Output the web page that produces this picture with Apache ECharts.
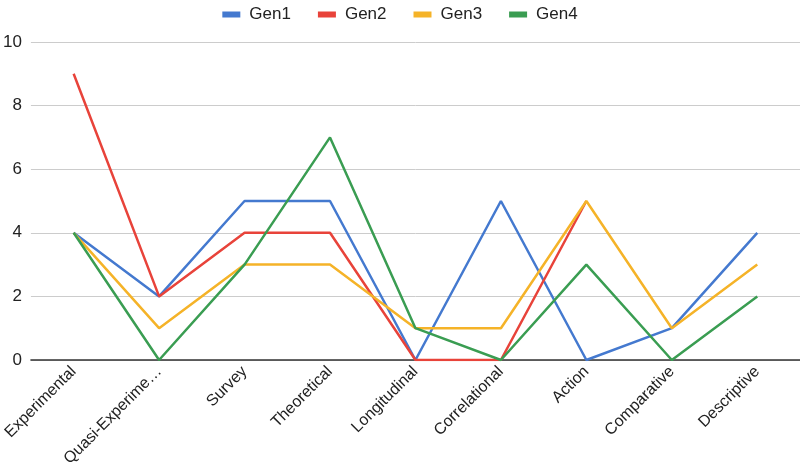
<!DOCTYPE html>
<html><head><meta charset="utf-8">
<script src="https://cdn.jsdelivr.net/npm/echarts@6/dist/echarts.min.js"></script>
<style>html,body{margin:0;padding:0;background:#fff}#c{width:800px;height:476px}</style>
</head><body><div id="c"></div>
<script>
const categories = ["Experimental","Quasi-Experimental","Survey","Theoretical","Longitudinal","Correlational","Action","Comparative","Descriptive"];
const gen1 = [4,2,5,5,0,5,0,1,4];
const gen2 = [9,2,4,4,0,0,5,null,null];
const gen3 = [4,1,3,3,1,1,5,1,3];
const gen4 = [4,0,3,7,1,0,3,0,2];
const seriesNames = ["Gen1","Gen2","Gen3","Gen4"];
const yTicks = [0,2,4,6,8,10];

const colors = ["#4479cf","#e8433a","#f5b328","#3a9d52"];
const chart = echarts.init(document.getElementById('c'));
const datasets = [gen1,gen2,gen3,gen4];
const ff = 'Liberation Sans, Arial, sans-serif';
const maxChars = 14;
chart.setOption({
  animation:false,
  color: colors,
  textStyle:{fontFamily:ff},
  legend:{
    top:1, left:'center', itemWidth:18, itemHeight:6, itemGap:27,
    icon:'rect',
    textStyle:{fontSize:17,color:'#222',fontFamily:ff,padding:[0,0,0,4]},
    data: seriesNames
  },
  grid:{left:27,right:0,top:42,bottom:116,containLabel:false},
  xAxis:{
    type:'category', data:categories, boundaryGap:true,
    axisLine:{lineStyle:{color:'#333',width:1.5}},
    axisTick:{show:false},
    axisLabel:{rotate:45,fontSize:16,color:'#222',margin:9,interval:0,
      formatter: v => v.length > maxChars+1 ? v.slice(0,maxChars) + '…' : v}
  },
  yAxis:{
    type:'value', min:yTicks[0], max:yTicks[yTicks.length-1], interval:2,
    axisLine:{show:false}, axisTick:{show:false},
    axisLabel:{fontSize:17,color:'#222',margin:9},
    splitLine:{lineStyle:{color:'#cccccc',width:1}}
  },
  series: seriesNames.map((n,i)=>({
    name:n, type:'line', data:datasets[i], showSymbol:false, symbol:'none',
    lineStyle:{width:2.5}, connectNulls:false
  }))
});
</script></body></html>
